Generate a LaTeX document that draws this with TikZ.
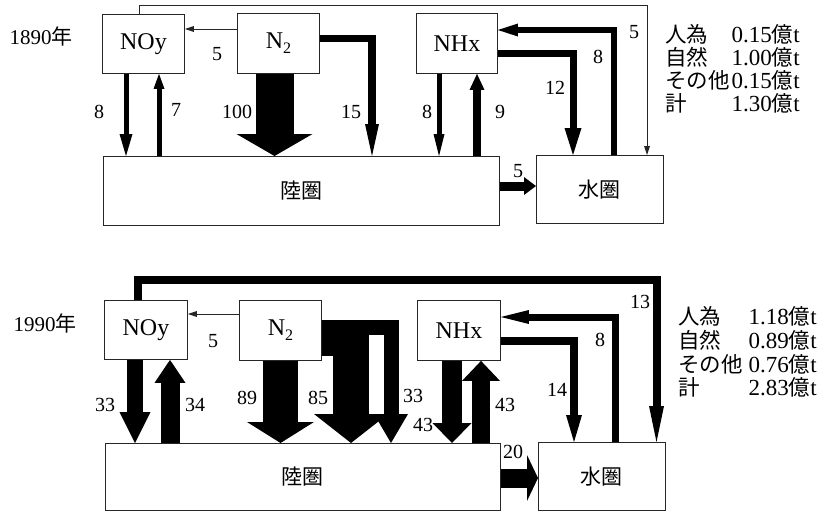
\documentclass[tikz,border=0pt]{standalone}
\usepackage{fontspec}
\setmainfont{Liberation Serif}
\newfontfamily\cjk{Noto Sans CJK JP}
\usetikzlibrary{arrows.meta}
\begin{document}
\begin{tikzpicture}[x=1pt,y=-1pt,line join=miter,
 box/.style={draw=black!85, line width=0.9pt, inner sep=0pt, anchor=north west, font=\fontsize{24}{24}\selectfont},
 cjkbox/.style={box, font=\cjk\fontsize{21}{21}\selectfont},
 num/.style={inner sep=0pt, font=\fontsize{20}{20}\selectfont},
 yr/.style={inner sep=0pt, font=\fontsize{21}{21}\selectfont},
 arr/.style n args={3}{draw=black, line width=#1, -{Triangle[width=#2,length=#3,line width=0pt]}},
 thinarr/.style={draw=black!85, line width=0.9pt, -{Triangle[width=6pt,length=9pt,line width=0pt]}},
 leg/.style={inner sep=0pt, font=\fontsize{23}{23}\selectfont},
 legj/.style={inner sep=0pt, font=\cjk\fontsize{21.5}{21.5}\selectfont}]
\fill[white] (0,0) rectangle (819,512);
\useasboundingbox (0,0) rectangle (819,512);

% ---------------- 1890 ----------------
\node[yr] (yrA) at (41,36) {1890{\cjk 年}};
\node[box, minimum width=82pt, minimum height=59pt] (noyA) at (102,14) {NOy};
\node[box, minimum width=82pt, minimum height=60pt] (n2A) at (237,13) {N\raisebox{-5pt}{\fontsize{16}{16}\selectfont 2}};
\node[box, minimum width=81pt, minimum height=60pt] (nhxA) at (416,13) {NHx};
\node[cjkbox, minimum width=396pt, minimum height=69pt] (rikuA) at (103,156) {陸圏};
\node[cjkbox, minimum width=127pt, minimum height=68pt] (mizuA) at (536,155) {水圏};

\draw[thinarr] (n2A.west |- 0,29) -- (noyA.east |- 0,29);
\draw[arr={5pt}{13pt}{22pt}] (noyA.south -| 126,0) -- (rikuA.north -| 126,0);
\draw[arr={5pt}{11pt}{15pt}] (rikuA.north -| 159,0) -- (noyA.south -| 159,0);
\draw[arr={38pt}{76pt}{22pt}] (n2A.south -| 274.5,0) -- (rikuA.north -| 274.5,0);
\draw[arr={7.5pt}{14pt}{32pt}] (n2A.east |- 0,38.5) -| (rikuA.north -| 372,0);
\draw[arr={5pt}{11pt}{22pt}] (nhxA.south -| 439,0) -- (rikuA.north -| 439,0);
\draw[arr={8pt}{15pt}{16pt}] (rikuA.north -| 477,0) -- (nhxA.south -| 477,0);
\draw[arr={7pt}{17pt}{27pt}] (nhxA.east |- 0,53.5) -| (mizuA.north -| 573,0);
\draw[arr={6pt}{13pt}{20pt}] (mizuA.north -| 614,0) |- (nhxA.east |- 0,30);
\draw[thinarr] (noyA.north -| 139,0) -- ++(0,-9) -| (mizuA.north -| 647,0);
\draw[arr={9pt}{18pt}{12pt}] (rikuA.east |- 0,186) -- (mizuA.west |- 0,186);

\node[num] (lA1) at (217,54) {5};
\node[num] (lA2) at (99,112) {8};
\node[num] (lA3) at (176,110) {7};
\node[num] (lA4) at (237,112) {100};
\node[num] (lA5) at (351,112) {15};
\node[num] (lA6) at (427,112) {8};
\node[num] (lA7) at (500,112) {9};
\node[num] (lA8) at (555,88) {12};
\node[num] (lA9) at (598,57) {8};
\node[num] (lA10) at (634,32) {5};
\node[num] (lA11) at (518,171) {5};

\node[legj, anchor=base west] (gA1) at (665,42) {人為};
\node[leg, anchor=base east] (vA1) at (800,42) {0.15{\cjk\fontsize{21.5}{21.5}\selectfont 億}t};
\node[legj, anchor=base west] (gA2) at (665,65) {自然};
\node[leg, anchor=base east] (vA2) at (800,65) {1.00{\cjk\fontsize{21.5}{21.5}\selectfont 億}t};
\node[legj, anchor=base west] (gA3) at (665,88) {その他};
\node[leg, anchor=base east] (vA3) at (800,88) {0.15{\cjk\fontsize{21.5}{21.5}\selectfont 億}t};
\node[legj, anchor=base west] (gA4) at (665,111) {計};
\node[leg, anchor=base east] (vA4) at (800,111) {1.30{\cjk\fontsize{21.5}{21.5}\selectfont 億}t};

% ---------------- 1990 ----------------
\node[yr] (yrB) at (45,323) {1990{\cjk 年}};
\node[box, minimum width=83pt, minimum height=59pt] (noyB) at (104,300) {NOy};
\node[box, minimum width=82pt, minimum height=60pt] (n2B) at (239,300) {N\raisebox{-5pt}{\fontsize{16}{16}\selectfont 2}};
\node[box, minimum width=83pt, minimum height=60pt] (nhxB) at (417,300) {NHx};
\node[cjkbox, minimum width=395pt, minimum height=67pt] (rikuB) at (105,443) {陸圏};
\node[cjkbox, minimum width=127pt, minimum height=68pt] (mizuB) at (538,442) {水圏};

\draw[thinarr] (n2B.west |- 0,314) -- (noyB.east |- 0,314);
\draw[arr={8pt}{15pt}{36pt}] (noyB.north -| 138,0) -- ++(0,-20) -| (mizuB.north -| 656.5,0);
\draw[arr={16pt}{31pt}{31pt}] (noyB.south -| 135,0) -- (rikuB.north -| 135,0);
\draw[arr={19pt}{31pt}{23pt}] (rikuB.north -| 170,0) -- (noyB.south -| 170,0);
\draw[arr={35pt}{67pt}{21pt}] (n2B.south -| 280.5,0) -- (rikuB.north -| 280.5,0);
\draw[arr={15pt}{34pt}{29pt}] (n2B.east |- 0,327) -| (rikuB.north -| 391,0);
\draw[arr={36pt}{74pt}{29pt}] (n2B.east |- 0,337.5) -| (rikuB.north -| 351,0);
\draw[arr={20pt}{39pt}{20pt}] (nhxB.south -| 452,0) -- (rikuB.north -| 452,0);
\draw[arr={18pt}{38pt}{20pt}] (rikuB.north -| 481,0) -- (nhxB.south -| 481,0);
\draw[arr={8pt}{16pt}{27pt}] (nhxB.east |- 0,341) -| (mizuB.north -| 574,0);
\draw[arr={7pt}{14pt}{28pt}] (mizuB.north -| 615,0) |- (nhxB.east |- 0,317);
\draw[arr={19pt}{46pt}{11pt}] (rikuB.east |- 0,478) -- (mizuB.west |- 0,478);

\node[num] (lB1) at (213,341) {5};
\node[num] (lB2) at (105,405) {33};
\node[num] (lB3) at (195,405) {34};
\node[num] (lB4) at (247,398) {89};
\node[num] (lB5) at (318,398) {85};
\node[num] (lB6) at (413,396) {33};
\node[num] (lB7) at (423,425) {43};
\node[num] (lB8) at (505,405) {43};
\node[num] (lB9) at (557,390) {14};
\node[num] (lB10) at (600,340) {8};
\node[num] (lB11) at (640,302) {13};
\node[num] (lB12) at (513,452) {20};

\node[legj, anchor=base west] (gB1) at (678,324) {人為};
\node[leg, anchor=base east] (vB1) at (817,324) {1.18{\cjk\fontsize{21.5}{21.5}\selectfont 億}t};
\node[legj, anchor=base west] (gB2) at (678,348) {自然};
\node[leg, anchor=base east] (vB2) at (817,348) {0.89{\cjk\fontsize{21.5}{21.5}\selectfont 億}t};
\node[legj, anchor=base west] (gB3) at (678,372) {その他};
\node[leg, anchor=base east] (vB3) at (817,372) {0.76{\cjk\fontsize{21.5}{21.5}\selectfont 億}t};
\node[legj, anchor=base west] (gB4) at (678,395) {計};
\node[leg, anchor=base east] (vB4) at (817,395) {2.83{\cjk\fontsize{21.5}{21.5}\selectfont 億}t};
\end{tikzpicture}
\end{document}
